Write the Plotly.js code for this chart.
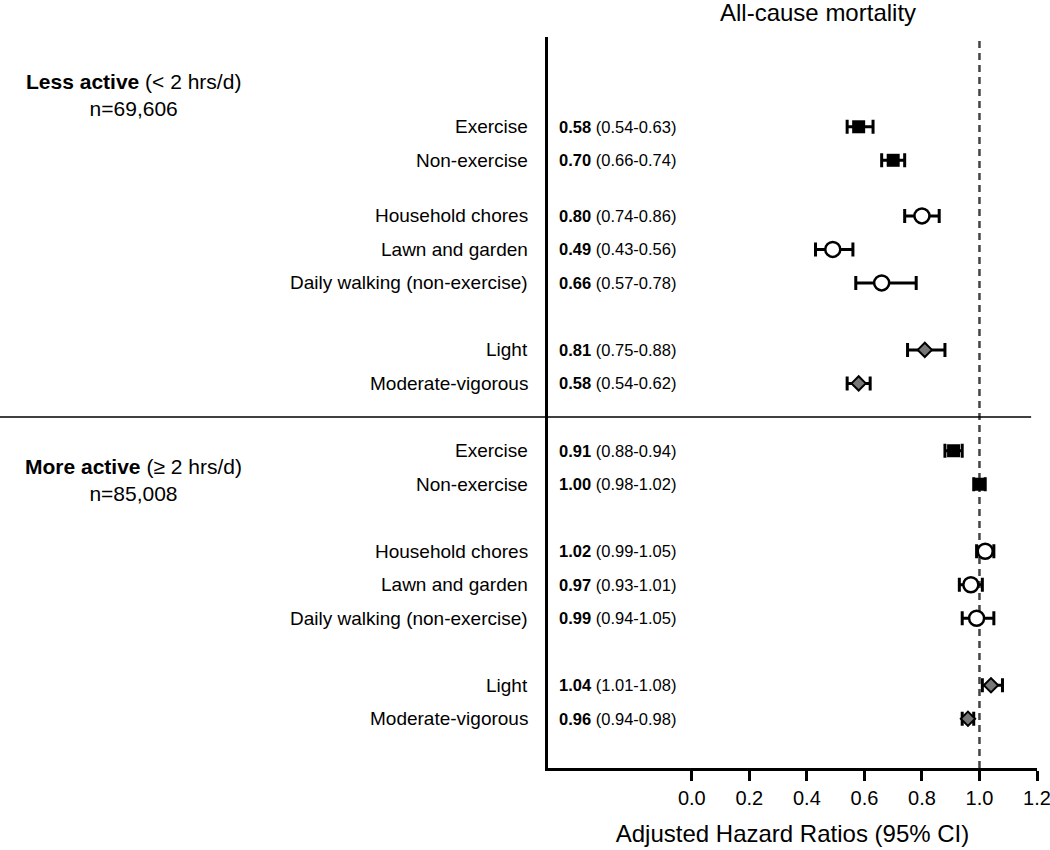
<!DOCTYPE html>
<html>
<head>
<meta charset="utf-8">
<script src="https://cdn.plot.ly/plotly-3.0.1.min.js"></script>
<style>html,body{margin:0;padding:0;background:#fff;}</style>
</head>
<body>
<div id="chart" style="width:1050px;height:850px;"></div>
<script>
// ---- data ----
const categories = ["Exercise", "Non-exercise", "Household chores", "Lawn and garden",
  "Daily walking (non-exercise)", "Light", "Moderate-vigorous"];
const markerKind = ["type", "type", "domain", "domain", "domain", "intensity", "intensity"];
const groupNames = ["Less active", "More active"];
const groupRanges = ["(&lt; 2 hrs/d)", "(\u2265 2 hrs/d)"];
const groupN = ["n=69,606", "n=85,008"];
const lessHR = [0.58, 0.70, 0.80, 0.49, 0.66, 0.81, 0.58];
const lessLo = [0.54, 0.66, 0.74, 0.43, 0.57, 0.75, 0.54];
const lessHi = [0.63, 0.74, 0.86, 0.56, 0.78, 0.88, 0.62];
const moreHR = [0.91, 1.00, 1.02, 0.97, 0.99, 1.04, 0.96];
const moreLo = [0.88, 0.98, 0.99, 0.93, 0.94, 1.01, 0.94];
const moreHi = [0.94, 1.02, 1.05, 1.01, 1.05, 1.08, 0.98];
const xTicks = [0, 0.2, 0.4, 0.6, 0.8, 1.0, 1.2];
const xTickText = ["0.0", "0.2", "0.4", "0.6", "0.8", "1.0", "1.2"];
const chartTitle = "All-cause mortality";
const xTitle = "Adjusted Hazard Ratios (95% CI)";

// ---- layout helpers ----
const FONT = "Liberation Sans, Arial, Helvetica, sans-serif";
const subgroupOf = [0, 0, 1, 1, 1, 2, 2];
const groupStart = [0, 9.67];
const breakGap = [[1.66, 2.0], [2.0, 2.0]];
function rowPositions(g) {
  const out = [];
  let p = groupStart[g];
  for (let i = 0; i < categories.length; i++) {
    if (i > 0) p += (subgroupOf[i] !== subgroupOf[i - 1]) ? breakGap[g][subgroupOf[i] - 1] : 1;
    out.push(p);
  }
  return out;
}
const groups = [
  {hr: lessHR, lo: lessLo, hi: lessHi, pos: rowPositions(0)},
  {hr: moreHR, lo: moreLo, hi: moreHi, pos: rowPositions(1)}
];

const styles = {
  type: {symbol: "square", size: 13, color: "#000", line: {color: "#000", width: 0}},
  domain: {symbol: "circle", size: 15, color: "#fff", line: {color: "#000", width: 2.5}},
  intensity: {symbol: "diamond", size: 11, color: "#777", line: {color: "#000", width: 2}}
};

const traces = [];
const annotations = [];
groups.forEach((g, gi) => {
  ["type", "domain", "intensity"].forEach(kind => {
    const idx = categories.map((c, i) => i).filter(i => markerKind[i] === kind);
    traces.push({
      type: "scatter", mode: "markers",
      x: idx.map(i => g.hr[i]),
      y: idx.map(i => g.pos[i]),
      marker: styles[kind],
      error_x: {
        type: "data", symmetric: false,
        array: idx.map(i => +(g.hi[i] - g.hr[i]).toFixed(3)),
        arrayminus: idx.map(i => +(g.hr[i] - g.lo[i]).toFixed(3)),
        color: "#000", thickness: 3, width: 7
      },
      hoverinfo: "skip"
    });
  });
  categories.forEach((c, i) => {
    annotations.push({
      xref: "paper", yref: "y", x: -0.037, y: g.pos[i], xanchor: "right", yanchor: "middle",
      text: c, showarrow: false, font: {family: FONT, size: 19, color: "#000"}
    });
    annotations.push({
      xref: "x", yref: "y", x: -0.467, y: g.pos[i], xanchor: "left", yanchor: "middle",
      text: "<b>" + g.hr[i].toFixed(2) + "</b> (" + g.lo[i].toFixed(2) + "-" + g.hi[i].toFixed(2) + ")",
      showarrow: false, font: {family: FONT, size: 16.5, color: "#000"}
    });
  });
});

const groupLabelY = [-0.95, 10.55];
groupNames.forEach((n, gi) => {
  annotations.push({
    xref: "paper", yref: "y", x: -0.848, y: groupLabelY[gi], xanchor: "center", yanchor: "middle",
    align: "center",
    text: "<b>" + n + "</b> " + groupRanges[gi] + "<br>" + groupN[gi],
    showarrow: false, font: {family: FONT, size: 21, color: "#000"}
  });
});

annotations.push({
  xref: "paper", yref: "paper", x: 0.552, y: 1.034, xanchor: "center", yanchor: "middle",
  text: chartTitle, showarrow: false, font: {family: FONT, size: 24, color: "#000"}
});

const layout = {
  width: 1050, height: 850,
  margin: {l: 548, r: 13, t: 37, b: 82, pad: 0},
  paper_bgcolor: "#fff", plot_bgcolor: "#fff",
  showlegend: false,
  font: {family: FONT, color: "#000"},
  xaxis: {
    range: [-0.5, 1.2], tickvals: xTicks, ticktext: xTickText,
    ticks: "outside", ticklen: 10, tickwidth: 3, tickcolor: "#000",
    ticklabeloverflow: "allow",
    showline: true, linewidth: 3, linecolor: "#000",
    showgrid: false, zeroline: false,
    tickfont: {family: FONT, size: 20, color: "#000"},
    title: {text: xTitle, font: {family: FONT, size: 24, color: "#000"}, standoff: 18}
  },
  yaxis: {
    range: [19.14, -2.68], showline: true, linewidth: 3.5, linecolor: "#000",
    showticklabels: false, ticks: "", showgrid: false, zeroline: false
  },
  shapes: [
    {type: "line", xref: "x", yref: "paper", x0: 1, x1: 1, y0: 0, y1: 1, layer: "below",
     line: {color: "#444", width: 2.5, dash: "7px,5px"}},
    {type: "line", xref: "paper", yref: "y", x0: -1.121, x1: 0.988, y0: 8.66, y1: 8.66,
     line: {color: "#000", width: 1.5}}
  ],
  annotations: annotations
};

Plotly.newPlot("chart", traces, layout, {displayModeBar: false, staticPlot: true});
</script>
</body>
</html>
